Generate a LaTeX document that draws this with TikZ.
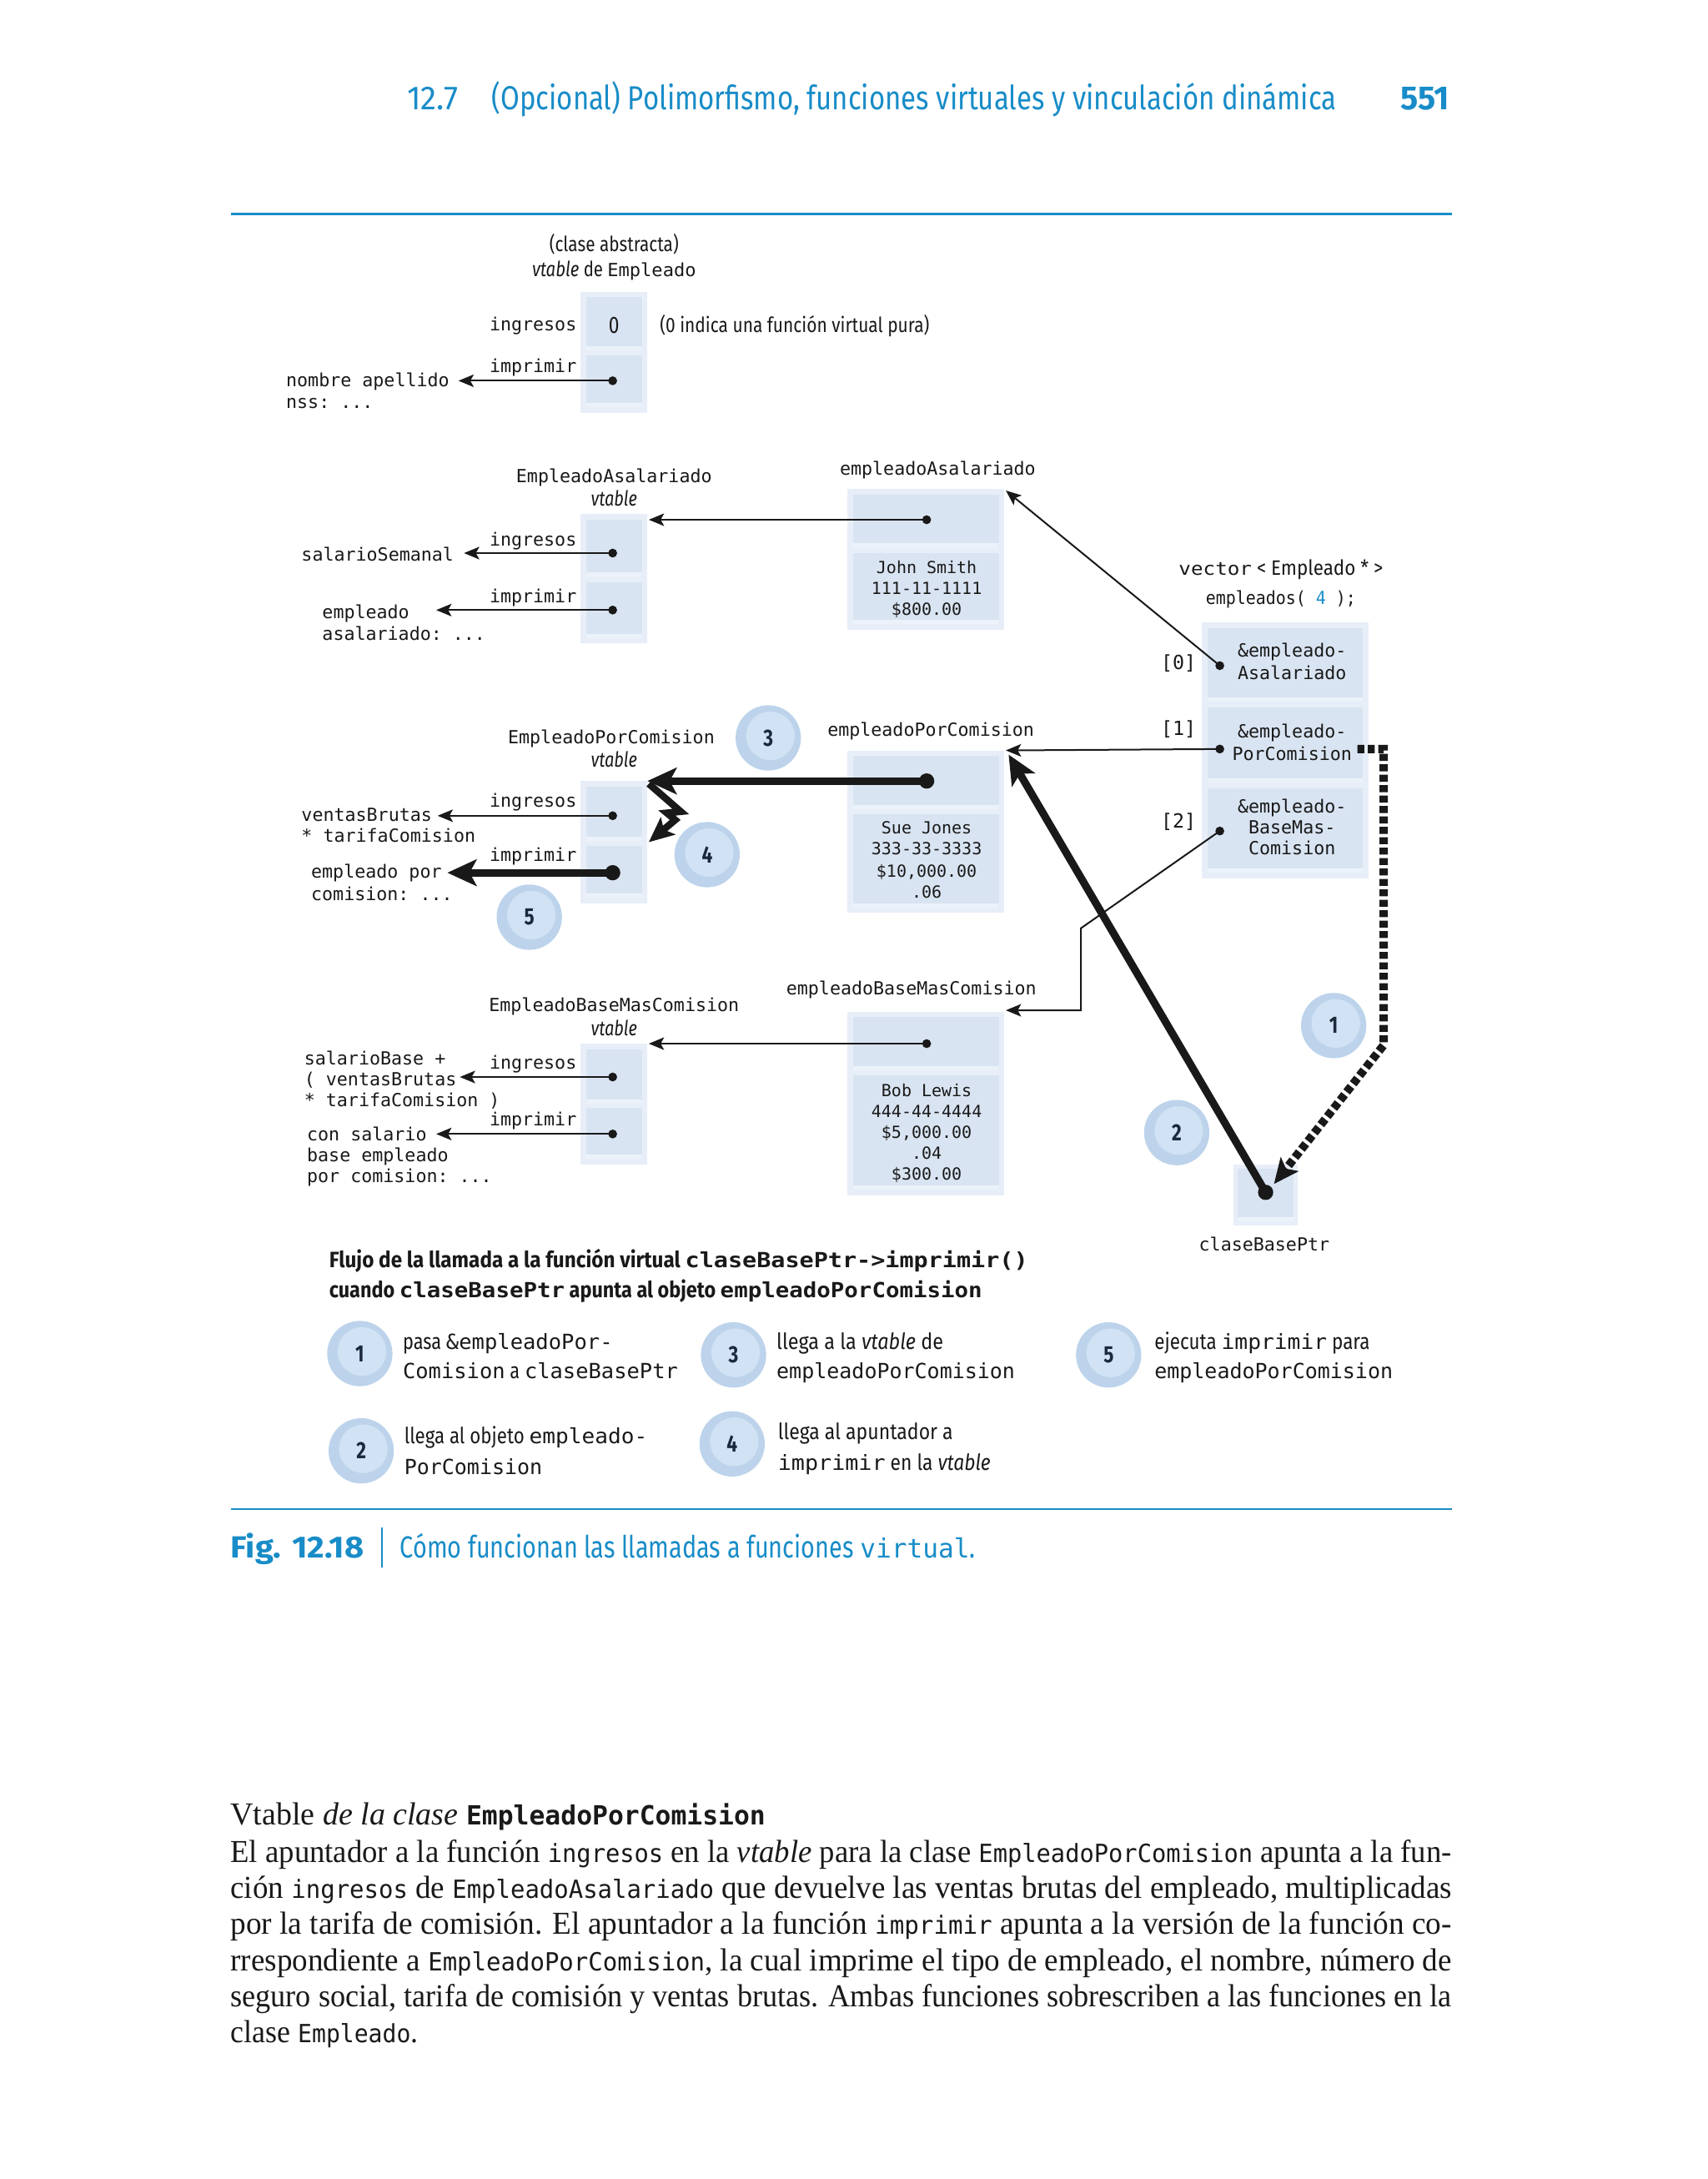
\documentclass[tikz,border=0pt]{standalone}
\usepackage{fontspec}
\usepackage{graphicx}
\setmainfont{Liberation Serif}
\setmonofont{DejaVu Sans Mono}
\newfontfamily\csf{Fira Sans}[FakeStretch=0.8]
\usetikzlibrary{arrows.meta}
\definecolor{hblue}{RGB}{24,140,200}
\definecolor{boxo}{RGB}{231,238,248}
\definecolor{boxc}{RGB}{217,228,242}
\definecolor{boxh}{RGB}{236,242,250}
\definecolor{circo}{RGB}{188,211,235}
\definecolor{circi}{RGB}{208,226,243}
\definecolor{numc}{RGB}{28,40,60}
\definecolor{ink}{RGB}{25,25,25}
\newcommand\fitw[2]{\resizebox{#1}{\height}{#2}}
\newcommand\mt[1]{{\ttfamily\fontsize{15}{15}\selectfont #1}}
\newcommand\pmono[1]{{\ttfamily\fontsize{18}{18}\selectfont #1}}
\begin{document}
\begin{tikzpicture}[x=1pt,y=-1pt,
  every node/.style={inner sep=0pt, outer sep=0pt, text=ink},
  mn/.style={font=\fontsize{13}{15}\selectfont\ttfamily},
  mns/.style={font=\fontsize{12}{14}\selectfont\ttfamily},
  sf/.style={font=\fontsize{15}{17}\selectfont\csf},
  leg/.style={anchor=base west, font=\fontsize{16}{16}\selectfont\csf},
  para/.style={anchor=base west, font=\fontsize{23}{26}\selectfont},
  obx/.style={rectangle, fill=boxo, anchor=north west},
  cbx/.style={rectangle, fill=boxc, anchor=north west,
    path picture={\fill[boxh] (path picture bounding box.south west) rectangle ([yshift=3pt]path picture bounding box.south east);}},
  stepc/.style={circle, minimum size=47pt, fill=circo, text=numc,
    font=\fontsize{17}{17}\selectfont\csf\bfseries,
    path picture={\fill[circi] ([xshift=1.5pt,yshift=1.5pt]path picture bounding box.center) circle (17.5pt);}},
  thinarr/.style={draw=ink, line width=1.2pt, -{Stealth[length=11pt,width=9pt,inset=2.5pt]}},
  thickarr/.style={draw=ink, line width=5.5pt, line join=miter, -{Stealth[length=21pt,width=19pt,inset=5pt]}},
  dasharr/.style={draw=ink, line width=6pt, dash pattern=on 5pt off 2.5pt, -{Stealth[length=18pt,width=16pt,inset=4pt]}}
]
\useasboundingbox (0,0) rectangle (1229,1568);
\fill[white] (0,0) rectangle (1229,1568);

% ---------- header ----------
\node[anchor=base west, font=\fontsize{24}{24}\selectfont\csf, text=hblue] (h1) at (293,79) {\fitw{37pt}{12.7}};
\node[anchor=base west, font=\fontsize{24}{24}\selectfont\csf, text=hblue] (h2) at (354,79) {\fitw{608pt}{(Opcional) Polimorfismo, funciones virtuales y vinculación dinámica}};
\node[anchor=base west, font=\fontsize{24}{24}\selectfont\csf\bfseries, text=hblue] (h3) at (1008,79) {\fitw{35pt}{551}};
\coordinate (r1a) at (166,154); \coordinate (r1b) at (1045,154);
\draw[hblue, line width=1.5pt] (r1a) -- (r1b);

% ---------- boxes ----------
\node[obx, minimum width=48, minimum height=87] (ev) at (418,210) {};
\node[cbx, minimum width=40, minimum height=38] (ev1) at (422,214) {};
\node[cbx, minimum width=40, minimum height=37] (ev2) at (422,256) {};
\node[obx, minimum width=48, minimum height=93] (av) at (418,370) {};
\node[cbx, minimum width=40, minimum height=41] (av1) at (422,374) {};
\node[cbx, minimum width=40, minimum height=40] (av2) at (422,419) {};
\node[obx, minimum width=48, minimum height=88] (cv) at (418,562) {};
\node[cbx, minimum width=40, minimum height=39] (cv1) at (422,566) {};
\node[cbx, minimum width=40, minimum height=37] (cv2) at (422,609) {};
\node[obx, minimum width=48, minimum height=87] (bv) at (418,751) {};
\node[cbx, minimum width=40, minimum height=39] (bv1) at (422,755) {};
\node[cbx, minimum width=40, minimum height=37] (bv2) at (422,797) {};
\node[obx, minimum width=113, minimum height=101] (ea) at (610,352) {};
\node[cbx, minimum width=105, minimum height=38] (ea1) at (614,356) {};
\node[cbx, minimum width=105, minimum height=51] (ea2) at (614,398) {};
\node[obx, minimum width=113, minimum height=117] (ec) at (610,540) {};
\node[cbx, minimum width=105, minimum height=38] (ec1) at (614,544) {};
\node[cbx, minimum width=105, minimum height=67] (ec2) at (614,586) {};
\node[obx, minimum width=113, minimum height=132] (eb) at (610,728) {};
\node[cbx, minimum width=105, minimum height=38] (eb1) at (614,732) {};
\node[cbx, minimum width=105, minimum height=82] (eb2) at (614,774) {};
\node[obx, minimum width=120, minimum height=184] (vec) at (865,448) {};
\node[cbx, minimum width=112, minimum height=53] (v0) at (869,452) {};
\node[cbx, minimum width=112, minimum height=54] (v1) at (869,509) {};
\node[cbx, minimum width=112, minimum height=61] (v2) at (869,567) {};
\node[obx, minimum width=46, minimum height=44] (cb) at (888,838) {};
\node[cbx, minimum width=40, minimum height=38] (cb1) at (891,841) {};

% ---------- diagram texts ----------
\node[sf, anchor=base] (t-ca) at (442,181) {\fitw{93pt}{(clase abstracta)}};
\node[sf, anchor=base] (t-vde) at (442,199) {\fitw{118pt}{\textit{vtable} de {\ttfamily\fontsize{13}{13}\selectfont Empleado}}};
\node[mn, anchor=base east] (t-ing0) at (415,238) {ingresos};
\node[font=\fontsize{17}{17}\selectfont\csf, anchor=base] (t-zero) at (442,240) {0};
\node[sf, anchor=base west] (t-pura) at (475,239) {\fitw{194pt}{(0 indica una función virtual pura)}};
\node[mn, anchor=base east] (t-imp0) at (415,268) {imprimir};
\node[mn, anchor=base west] (t-nom1) at (206,278) {nombre apellido};
\node[mn, anchor=base west] (t-nom2) at (206,294) {nss: ...};

\node[mn, anchor=base] (t-ea) at (442,347) {EmpleadoAsalariado};
\node[sf, anchor=base] (t-eav) at (442,364) {\textit{vtable}};
\node[mn, anchor=base east] (t-ing1) at (415,393) {ingresos};
\node[mn, anchor=base west] (t-sal) at (217,404) {salarioSemanal};
\node[mn, anchor=base east] (t-imp1) at (415,434) {imprimir};
\node[mn, anchor=base west] (t-ea1) at (232,445) {empleado};
\node[mn, anchor=base west] (t-ea2) at (232,461) {asalariado: ...};

\node[mn, anchor=base] (t-eao) at (675,342) {empleadoAsalariado};
\node[mns, anchor=base] (t-js1) at (667,413) {John Smith};
\node[mns, anchor=base] (t-js2) at (667,428) {111-11-1111};
\node[mns, anchor=base] (t-js3) at (667,443) {\$800.00};

\node[sf, anchor=base] (t-vec1) at (922,414) {\fitw{147pt}{{\ttfamily\fontsize{13}{13}\selectfont vector} < Empleado * >}};
\node[mn, anchor=base] (t-vec2) at (922,435) {\fitw{108pt}{empleados( \textcolor{hblue}{4} );}};
\node[font=\fontsize{14}{14}\selectfont\ttfamily, anchor=base east] (t-i0) at (861,482) {[0]};
\node[font=\fontsize{14}{14}\selectfont\ttfamily, anchor=base east] (t-i1) at (861,529) {[1]};
\node[font=\fontsize{14}{14}\selectfont\ttfamily, anchor=base east] (t-i2) at (861,596) {[2]};
\node[mn, anchor=base] (t-v0a) at (930,473) {\&empleado-};
\node[mn, anchor=base] (t-v0b) at (930,489) {Asalariado};
\node[mn, anchor=base] (t-v1a) at (930,531) {\&empleado-};
\node[mn, anchor=base] (t-v1b) at (930,547) {PorComision};
\node[mn, anchor=base] (t-v2a) at (930,585) {\&empleado-};
\node[mn, anchor=base] (t-v2b) at (930,600) {BaseMas-};
\node[mn, anchor=base] (t-v2c) at (930,615) {Comision};

\node[mn, anchor=base] (t-ec) at (440,535) {EmpleadoPorComision};
\node[sf, anchor=base] (t-ecv) at (442,552) {\textit{vtable}};
\node[mn, anchor=base east] (t-ing2) at (415,581) {ingresos};
\node[mn, anchor=base west] (t-vb1) at (217,591) {ventasBrutas};
\node[mn, anchor=base west] (t-vb2) at (217,606) {* tarifaComision};
\node[mn, anchor=base east] (t-imp2) at (415,620) {imprimir};
\node[mn, anchor=base west] (t-ep1) at (224,632) {empleado por};
\node[mn, anchor=base west] (t-ep2) at (224,648) {comision: ...};

\node[mn, anchor=base] (t-eco) at (670,530) {empleadoPorComision};
\node[mns, anchor=base] (t-sj1) at (667,600) {Sue Jones};
\node[mns, anchor=base] (t-sj2) at (667,615) {333-33-3333};
\node[mns, anchor=base] (t-sj3) at (667,631) {\$10,000.00};
\node[mns, anchor=base] (t-sj4) at (667,646) {.06};

\node[mn, anchor=base] (t-eb) at (442,728) {EmpleadoBaseMasComision};
\node[sf, anchor=base] (t-ebv) at (442,745) {\textit{vtable}};
\node[mn, anchor=base east] (t-ing3) at (415,769) {ingresos};
\node[mn, anchor=base west] (t-sb1) at (219,766) {salarioBase +};
\node[mn, anchor=base west] (t-sb2) at (219,781) {( ventasBrutas};
\node[mn, anchor=base west] (t-sb3) at (219,796) {* tarifaComision )};
\node[mn, anchor=base east] (t-imp3) at (415,810) {imprimir};
\node[mn, anchor=base west] (t-cs1) at (221,821) {con salario};
\node[mn, anchor=base west] (t-cs2) at (221,836) {base empleado};
\node[mn, anchor=base west] (t-cs3) at (221,851) {por comision: ...};

\node[mn, anchor=base] (t-ebo) at (656,716) {empleadoBaseMasComision};
\node[mns, anchor=base] (t-bl1) at (667,789) {Bob Lewis};
\node[mns, anchor=base] (t-bl2) at (667,804) {444-44-4444};
\node[mns, anchor=base] (t-bl3) at (667,819) {\$5,000.00};
\node[mns, anchor=base] (t-bl4) at (667,834) {.04};
\node[mns, anchor=base] (t-bl5) at (667,849) {\$300.00};

\node[mn, anchor=base] (t-cbp) at (910,900) {claseBasePtr};

% ---------- connector coordinates ----------
\coordinate (d-ev) at (441,274);   \coordinate (p-ev) at (330,274);
\coordinate (d-av1) at (441,398);  \coordinate (p-av1) at (334,398);
\coordinate (d-av2) at (441,439);  \coordinate (p-av2) at (314,439);
\coordinate (d-ea) at (667,374);   \coordinate (p-ea) at (467,374);
\coordinate (d-v0) at (878,479);   \coordinate (p-v0) at (724,353);
\coordinate (d-cv1) at (441,587);  \coordinate (p-cv1) at (315,587);
\coordinate (d-cv2) at (441,628);  \coordinate (p-cv2) at (322,628);
\coordinate (d-v1) at (878,539);   \coordinate (p-v1) at (724,540);
\coordinate (d-ec) at (667,562);   \coordinate (p-ec) at (466,562);
\coordinate (d-bv1) at (441,775);  \coordinate (p-bv1) at (331,775);
\coordinate (d-bv2) at (441,816);  \coordinate (p-bv2) at (314,816);
\coordinate (d-eb) at (667,751);   \coordinate (p-eb) at (467,751);
\coordinate (d-v2) at (878,598);   \coordinate (k-v2a) at (778,668); \coordinate (k-v2b) at (778,727); \coordinate (p-v2) at (724,727);
\coordinate (d-cb) at (911,858);   \coordinate (p-cb) at (726,543);
\coordinate (z0) at (467,564); \coordinate (z1) at (490,584); \coordinate (z2) at (480,585); \coordinate (z3) at (486,590); \coordinate (p-z) at (467,606);
\coordinate (s-dash) at (977,539); \coordinate (k-d1) at (996,539); \coordinate (k-d2) at (996,752); \coordinate (p-dash) at (917,852);

\draw[thinarr] (d-ev) -- (p-ev);
\draw[thinarr] (d-av1) -- (p-av1);
\draw[thinarr] (d-av2) -- (p-av2);
\draw[thinarr] (d-ea) -- (p-ea);
\draw[thinarr] (d-v0) -- (p-v0);
\draw[thinarr] (d-cv1) -- (p-cv1);
\draw[thinarr] (d-v1) -- (p-v1);
\draw[thinarr] (d-bv1) -- (p-bv1);
\draw[thinarr] (d-bv2) -- (p-bv2);
\draw[thinarr] (d-eb) -- (p-eb);
\draw[thinarr] (d-v2) -- (k-v2a) -- (k-v2b) -- (p-v2);
\foreach \d in {d-ev,d-av1,d-av2,d-ea,d-v0,d-cv1,d-v1,d-bv1,d-bv2,d-eb,d-v2}
  \fill[ink] (\d) circle (3.2pt);
\draw[thickarr] (d-ec) -- (p-ec);
\draw[thickarr] (d-cv2) -- (p-cv2);
\draw[thickarr] (d-cb) -- (p-cb);
\draw[thickarr, line width=5pt, -{Stealth[length=18pt,width=16pt,inset=4pt]}] (z0) -- (z1) -- (z2) -- (z3) -- (p-z);
\draw[dasharr] (s-dash) -- (k-d1) -- (k-d2) -- (p-dash);
\foreach \d in {d-ec,d-cv2,d-cb}
  \fill[ink] (\d) circle (5.5pt);

% ---------- step circles ----------
\node[stepc] (c3) at (553,531) {3};
\node[stepc] (c4) at (509,615) {4};
\node[stepc] (c5) at (381,660) {5};
\node[stepc] (c1) at (960,738) {1};
\node[stepc] (c2) at (847,815) {2};

% ---------- caption / legend ----------
\node[anchor=base west, font=\fontsize{16}{16}\selectfont\csf\bfseries] (cap1) at (237,912)
  {\fitw{503pt}{Flujo de la llamada a la función virtual \mt{claseBasePtr->imprimir()}}};
\node[anchor=base west, font=\fontsize{16}{16}\selectfont\csf\bfseries] (cap2) at (237,934)
  {\fitw{470pt}{cuando \mt{claseBasePtr} apunta al objeto \mt{empleadoPorComision}}};

\node[stepc] (lc1) at (259,974) {1};
\node[stepc] (lc3) at (528,975) {3};
\node[stepc] (lc5) at (798,975) {5};
\node[stepc] (lc2) at (260,1044) {2};
\node[stepc] (lc4) at (527,1039) {4};

\node[leg] (l1a) at (290,971) {\fitw{151pt}{pasa \mt{\&empleadoPor-}}};
\node[leg] (l1b) at (290,992) {\fitw{198pt}{\mt{Comision} a \mt{claseBasePtr}}};
\node[leg] (l3a) at (559,971) {\fitw{120pt}{llega a la \textit{vtable} de}};
\node[leg] (l3b) at (559,992) {\mt{empleadoPorComision}};
\node[leg] (l5a) at (831,971) {\fitw{155pt}{ejecuta \mt{imprimir} para}};
\node[leg] (l5b) at (831,992) {\mt{empleadoPorComision}};
\node[leg] (l2a) at (291,1039) {\fitw{175pt}{llega al objeto \mt{empleado-}}};
\node[leg] (l2b) at (291,1061) {\mt{PorComision}};
\node[leg] (l4a) at (560,1036) {\fitw{126pt}{llega al apuntador a}};
\node[leg] (l4b) at (560,1058) {\fitw{153pt}{\mt{imprimir} en la \textit{vtable}}};

\coordinate (r2a) at (166,1086); \coordinate (r2b) at (1045,1086);
\draw[hblue, line width=1.5pt] (r2a) -- (r2b);

\node[anchor=base west, font=\fontsize{22}{22}\selectfont\csf\bfseries, text=hblue] (fig1) at (166,1121) {\fitw{96pt}{Fig. 12.18}};
\coordinate (bar1) at (275,1099); \coordinate (bar2) at (275,1128);
\draw[hblue, line width=1pt] (bar1) -- (bar2);
\node[anchor=base west, font=\fontsize{22}{22}\selectfont\csf, text=hblue] (fig2) at (288,1121)
  {\fitw{414pt}{Cómo funcionan las llamadas a funciones {\ttfamily\fontsize{19}{19}\selectfont virtual}.}};

% ---------- paragraph ----------
\node[anchor=base west, font=\fontsize{23}{26}\selectfont] (ph) at (166,1313)
  {\fitw{385pt}{Vtable \textit{de la clase} {\ttfamily\bfseries\fontsize{19}{19}\selectfont EmpleadoPorComision}}};
\node[para] (p1) at (166,1340)
  {\fitw{879pt}{El apuntador a la función \pmono{ingresos} en la \textit{vtable} para la clase \pmono{EmpleadoPorComision} apunta a la fun-}};
\node[para] (p2) at (166,1366)
  {\fitw{879pt}{ción \pmono{ingresos} de \pmono{EmpleadoAsalariado} que devuelve las ventas brutas del empleado, multiplicadas}};
\node[para] (p3) at (166,1392)
  {\fitw{879pt}{por la tarifa de comisión. El apuntador a la función \pmono{imprimir} apunta a la versión de la función co-}};
\node[para] (p4) at (166,1418)
  {\fitw{879pt}{rrespondiente a \pmono{EmpleadoPorComision}, la cual imprime el tipo de empleado, el nombre, número de}};
\node[para] (p5) at (166,1444)
  {\fitw{879pt}{seguro social, tarifa de comisión y ventas brutas. Ambas funciones sobrescriben a las funciones en la}};
\node[para] (p6) at (166,1470)
  {\fitw{135pt}{clase \pmono{Empleado}.}};
\end{tikzpicture}
\end{document}
